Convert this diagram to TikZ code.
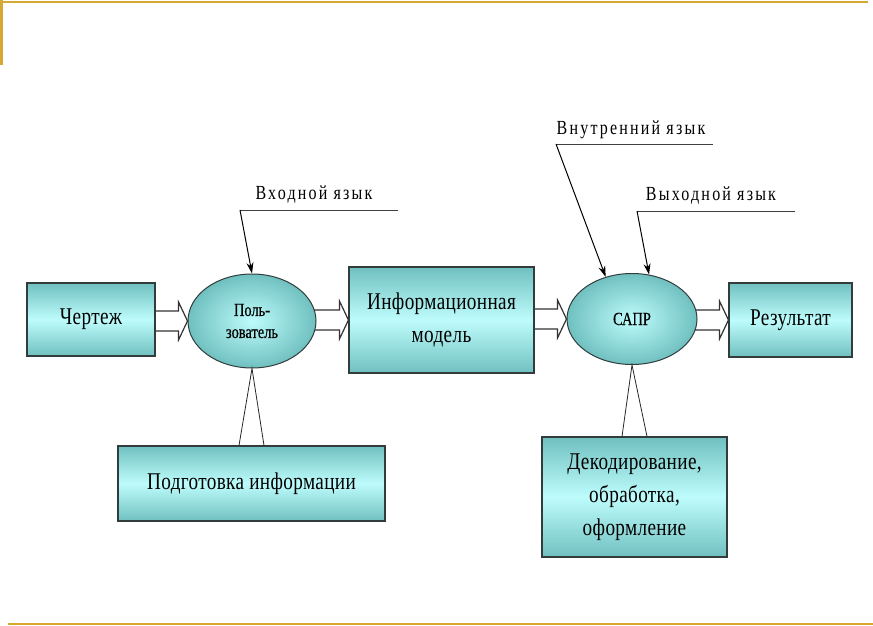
\documentclass[tikz,border=0pt]{standalone}
\usepackage{fontspec}
\setmainfont{Liberation Serif}
\newfontfamily\boxfont{Liberation Serif}[FakeStretch=0.8, LetterSpace=1.5]
\newfontfamily\callfont{Liberation Serif}[FakeStretch=0.8, LetterSpace=11]
\newfontfamily\ovalfont{Liberation Serif}[FakeStretch=0.78, FakeBold=0.5]
\usetikzlibrary{shapes.geometric,arrows.meta,calc,backgrounds}
\definecolor{gold}{RGB}{214,170,50}
\definecolor{tealdark}{RGB}{112,192,192}
\definecolor{teallight}{RGB}{190,252,252}
\definecolor{edge}{RGB}{50,60,60}
\tikzset{
  box/.style={draw=edge, line width=1.1pt, rectangle, top color=tealdark, bottom color=tealdark, middle color=teallight, align=center, font=\boxfont\fontsize{24}{33}\selectfont, inner sep=0pt},
  oval/.style={draw=edge, line width=1pt, ellipse, inner color=teallight, outer color=tealdark, align=center, inner sep=0pt, font=\ovalfont\fontsize{18.5}{22}\selectfont},
  barrow/.style={draw=black!80, line width=1.2pt, fill=white, line join=miter},
  calltext/.style={font=\callfont\fontsize{20}{22}\selectfont, inner sep=0pt},
  callline/.style={draw=black!75, line width=1pt},
  callarrow/.style={draw=black, line width=1pt, -{Stealth[length=11pt,width=7pt]}},
  trileg/.style={draw=black!85, line width=0.8pt},
  frameline/.style={draw=gold, line width=2.5pt}
}
\newcommand\blockarr[2]{%
  \draw[barrow] let \p1=(#1), \p2=(#2) in
    (\x1-3pt,\y2+10pt) -- (\x2-9pt,\y2+10pt) -- (\x2-9pt,\y2+19pt) -- (\x2,\y2)
    -- (\x2-9pt,\y2-19pt) -- (\x2-9pt,\y2-10pt) -- (\x1-3pt,\y2-10pt);}
\begin{document}
\begin{tikzpicture}[x=1pt,y=-1pt]
\useasboundingbox (0,0) rectangle (873,626);
% frame lines
\draw[frameline] (0,2) -- (868,2);
\draw[frameline] (1.5,0) -- (1.5,65);
\draw[frameline] (8,624) -- (873,624);
% nodes
\node[box, minimum width=128pt, minimum height=73pt] (cher) at (91,319.5) {Чертеж};
\node[oval, minimum width=128pt, minimum height=94pt] (user) at (252,321) {Поль-\\зователь};
\node[box, minimum width=185pt, minimum height=106pt] (info) at (441.5,320) {Информационная\\модель};
\node[oval, minimum width=130pt, minimum height=91pt] (sapr) at (632,319) {САПР};
\node[box, minimum width=123pt, minimum height=74pt] (res) at (790.5,320) {Результат};
\node[box, minimum width=267pt, minimum height=75pt] (prep) at (251.5,483.5) {Подготовка информации};
\node[box, minimum width=185pt, minimum height=120pt] (dec) at (634.5,497) {Декодирование,\\обработка,\\оформление};
% block arrows
\begin{scope}[on background layer]
\blockarr{cher.east}{user.west}
\blockarr{user.east}{info.west}
\blockarr{info.east}{sapr.west}
\blockarr{sapr.east}{res.west}
\end{scope}
% triangles
\draw[trileg] ($(prep.north)+(-12.5,0)$) -- (user.south) -- ($(prep.north)+(12.5,0)$);
\draw[trileg] ($(dec.north)+(-12.5,0)$) -- (sapr.south) -- ($(dec.north)+(12.5,0)$);
% callouts
\node[calltext] (lin) at (314,195) {Входной язык};
\coordinate (linL) at (240,210);
\coordinate (linR) at (398,210);
\draw[callline] (linR) -- (linL);
\draw[callarrow] (linL) -- (user.north);
\node[calltext] (lint) at (631,130) {Внутренний язык};
\coordinate (lintL) at (556,144);
\coordinate (lintR) at (713,144);
\draw[callline] (lintR) -- (lintL);
\draw[callarrow] (lintL) -- (sapr.122);
\node[calltext] (lout) at (711,196) {Выходной язык};
\coordinate (loutL) at (637,211);
\coordinate (loutR) at (795,211);
\draw[callline] (loutR) -- (loutL);
\draw[callarrow] (loutL) -- (sapr.69);
\end{tikzpicture}
\end{document}
